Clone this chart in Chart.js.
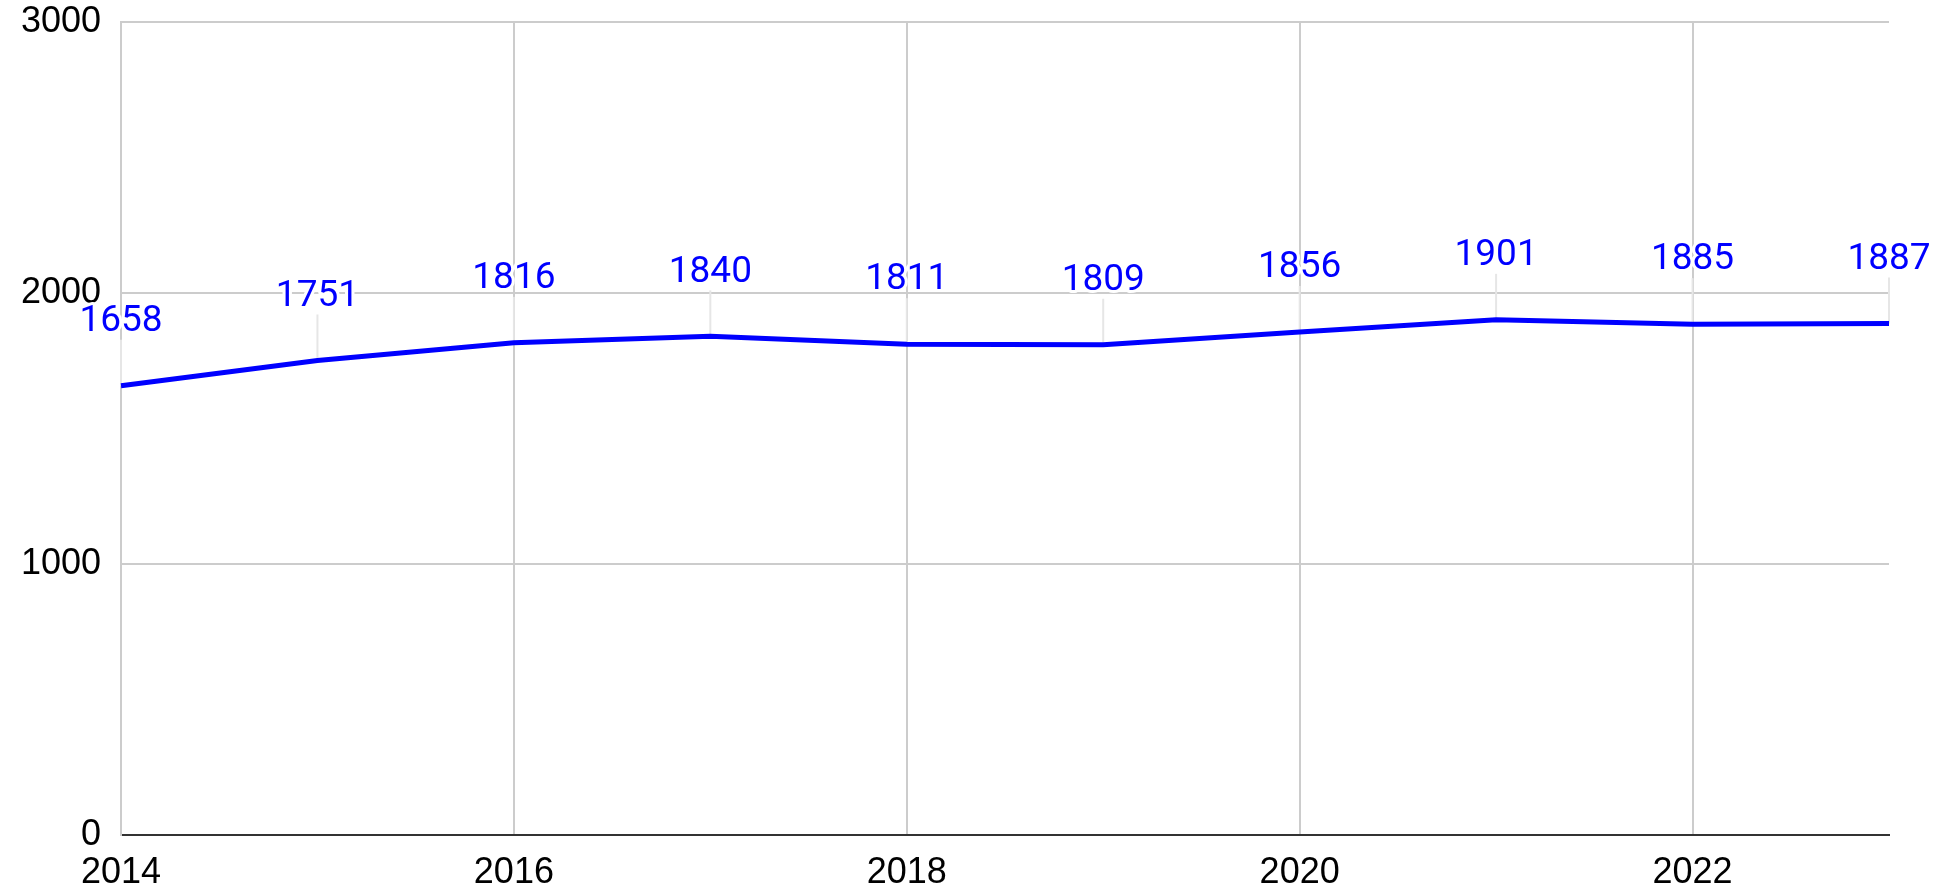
<!DOCTYPE html>
<html>
<head>
<meta charset="utf-8">
<script src="https://cdn.jsdelivr.net/npm/chart.js"></script>
<style>
  html, body { margin: 0; padding: 0; background: #fff; }
  #wrap { width: 1942px; height: 891px; }
</style>
</head>
<body>
<div id="wrap"><canvas id="chart" width="1942" height="891"></canvas></div>
<script>
// values
var years = ['2014', '2015', '2016', '2017', '2018', '2019', '2020', '2021', '2022', '2023'];
var values = [1658, 1751, 1816, 1840, 1811, 1809, 1856, 1901, 1885, 1887];
var yTicks = [0, 1000, 2000, 3000];

var gridColor = '#cccccc';
var lineColor = '#0000ff';

// value labels with a thin leader line going down to the point
var pointLabels = {
    id: 'pointLabels',
    beforeDatasetsDraw: function(chart) {
        var ctx = chart.ctx;
        var meta = chart.getDatasetMeta(0);
        ctx.save();
        ctx.strokeStyle = '#e6e6e6';
        ctx.lineWidth = 2;
        meta.data.forEach(function(pt) {
            ctx.beginPath();
            ctx.moveTo(pt.x, pt.y);
            ctx.lineTo(pt.x, pt.y - 46);
            ctx.stroke();
        });
        ctx.restore();
    },
    afterDatasetsDraw: function(chart) {
        var ctx = chart.ctx;
        var meta = chart.getDatasetMeta(0);
        ctx.save();
        ctx.font = '37px Roboto';
        ctx.textAlign = 'center';
        ctx.textBaseline = 'middle';
        ctx.lineJoin = 'round';
        meta.data.forEach(function(pt, i) {
            var txt = String(values[i]);
            var ty = pt.y - 64;
            ctx.strokeStyle = '#ffffff';
            ctx.lineWidth = 6;
            ctx.strokeText(txt, pt.x, ty);
            ctx.fillStyle = lineColor;
            ctx.fillText(txt, pt.x, ty);
        });
        ctx.restore();
    }
};

var ctx = document.getElementById('chart');
var chart = new Chart(ctx, {
    type: 'line',
    data: {
        labels: years,
        datasets: [{
            data: values,
            borderColor: lineColor,
            borderWidth: 5,
            pointRadius: 0,
            tension: 0,
            fill: false
        }]
    },
    options: {
        responsive: false,
        animation: false,
        layout: { padding: { top: 22, right: 53, left: 0, bottom: 0 } },
        plugins: {
            legend: { display: false },
            tooltip: { enabled: false }
        },
        scales: {
            x: {
                offset: false,
                grid: {
                    color: function(c) { return c.index % 2 === 0 ? gridColor : 'rgba(0,0,0,0)'; },
                    lineWidth: 2,
                    drawTicks: false
                },
                border: { color: '#333333', width: 2 },
                ticks: {
                    autoSkip: false,
                    maxRotation: 0,
                    padding: 16,
                    color: '#000000',
                    font: { family: 'Liberation Sans', size: 36 },
                    callback: function(val, i) { return i % 2 === 0 ? this.getLabelForValue(val) : ''; }
                },
                afterFit: function(s) {
                    s.height = 56;
                    s.paddingLeft = 0;
                    s.paddingRight = 0;
                }
            },
            y: {
                min: 0,
                max: 3000,
                afterBuildTicks: function(s) { s.ticks = yTicks.map(function(v) { return { value: v }; }); },
                grid: { color: gridColor, lineWidth: 2, drawTicks: false },
                border: { color: gridColor, width: 2 },
                ticks: {
                    padding: 20,
                    color: '#000000',
                    font: { family: 'Liberation Sans', size: 36 },
                    callback: function(v) { return String(v); }
                },
                afterFit: function(s) {
                    s.width = 121;
                    s.paddingTop = 0;
                    s.paddingBottom = 0;
                }
            }
        }
    },
    plugins: [pointLabels]
});
</script>
</body>
</html>
